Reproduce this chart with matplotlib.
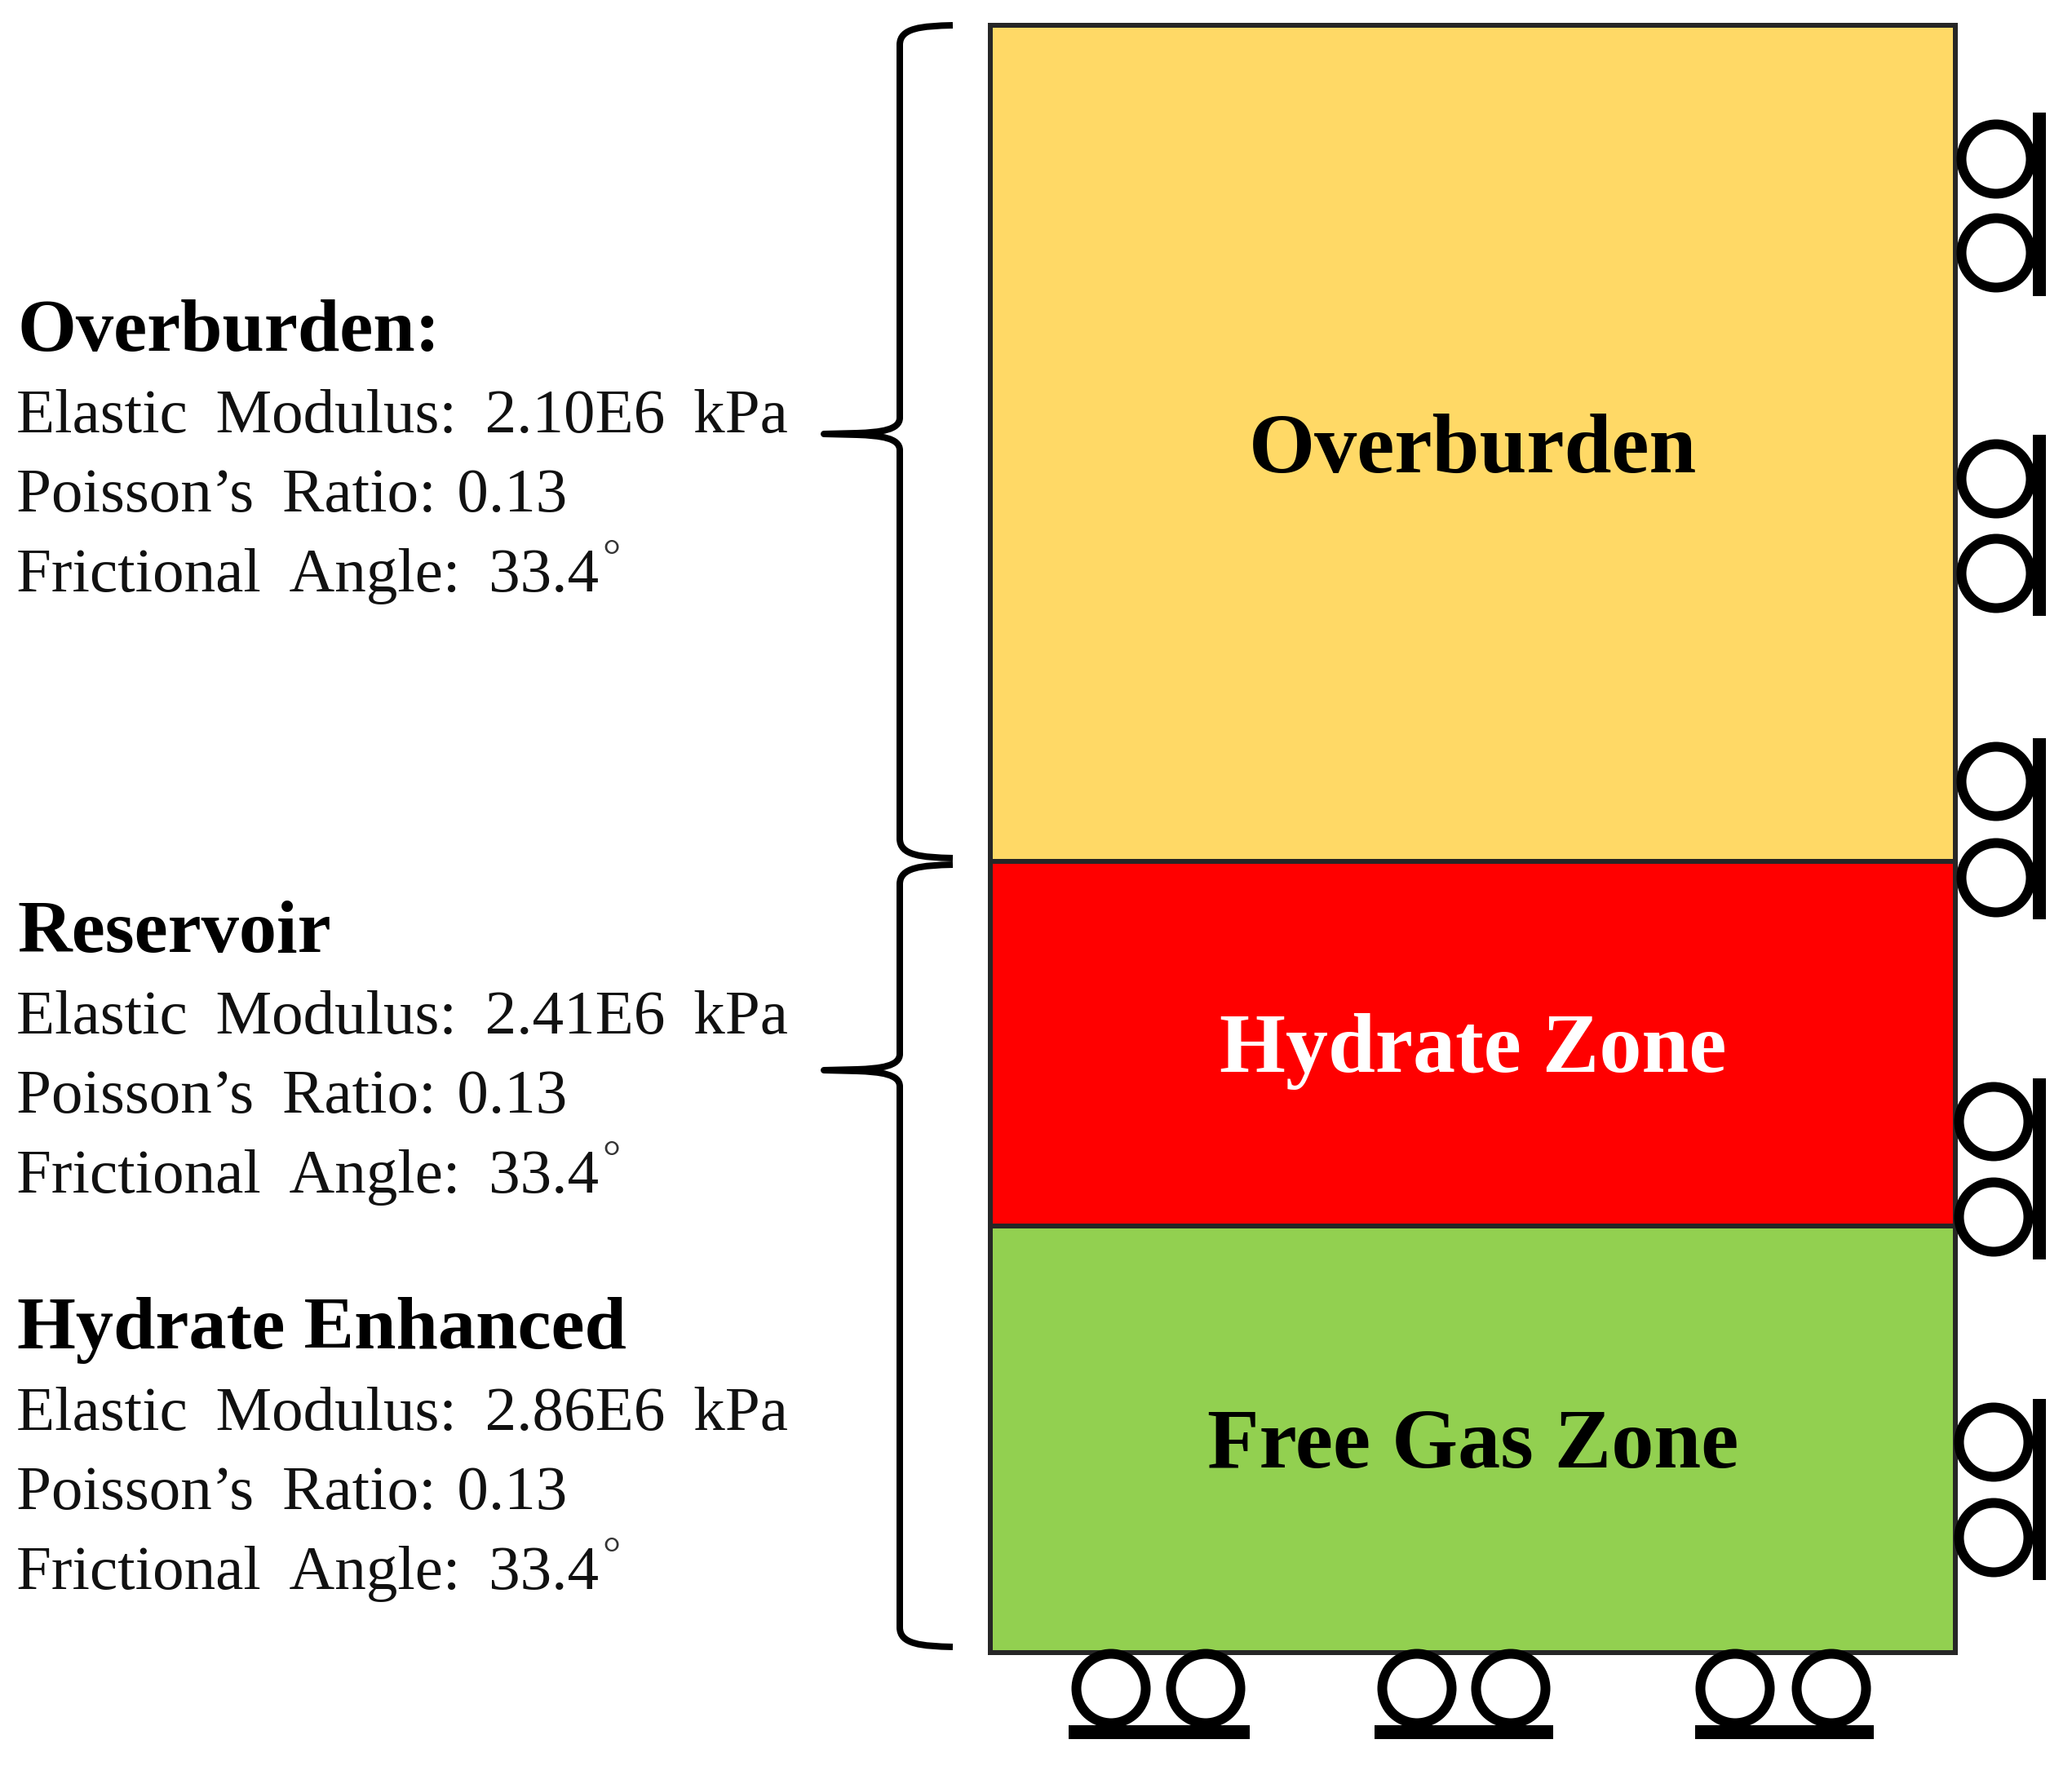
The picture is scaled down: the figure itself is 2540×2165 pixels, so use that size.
import matplotlib
matplotlib.use("Agg")
import matplotlib.pyplot as plt
import matplotlib.patches as mpatches
from matplotlib.path import Path

# layers, top to bottom (image pixel depth)
layer_names = ["Overburden", "Hydrate Zone", "Free Gas Zone"]
layer_colors = ["#FFD966", "#FF0000", "#92D050"]
layer_text_colors = ["black", "white", "black"]
layer_tops = [31, 1056, 1503]
layer_bottoms = [1056, 1503, 2026]
layer_label_base = [579, 1314, 1799]

# property blocks on the left
block_titles = ["Overburden:", "Reservoir", "Hydrate Enhanced"]
block_title_base = [430, 1167, 1653]
elastic_modulus = ["2.10E6", "2.41E6", "2.86E6"]
poisson_ratio = [0.13, 0.13, 0.13]
friction_angle = [33.4, 33.4, 33.4]

# rollers
right_pairs = [(195, 310), (587, 703), (958, 1076), (1375, 1492), (1768, 1885)]
right_x = [2447, 2447, 2447, 2444, 2444]
right_bars = [(138, 363), (533, 755), (905, 1127), (1322, 1544), (1715, 1937)]
bottom_pairs = [(1362, 1478), (1737, 1852), (2127, 2245)]
bottom_bars = [(1310, 1532), (1685, 1904), (2078, 2297)]

# braces: top end, tip, bottom end
braces = [(31, 532, 1052), (1060, 1312, 2019)]

W, H = 2540, 2165
DPI = 100
px = 72.0 / DPI  # one image pixel in points

plt.rcParams['font.family'] = ['Liberation Serif', 'DejaVu Serif']

fig = plt.figure(figsize=(W / DPI, H / DPI), dpi=DPI)
ax = fig.add_axes([0, 0, 1, 1])
ax.set_xlim(0, W)
ax.set_ylim(H, 0)
ax.axis('off')

rect_left, rect_right = 1214, 2397

for name, col, tcol, top, bot, base in zip(layer_names, layer_colors, layer_text_colors,
                                           layer_tops, layer_bottoms, layer_label_base):
    ax.add_patch(mpatches.Rectangle((rect_left, top), rect_right - rect_left, bot - top,
                                    facecolor=col, edgecolor='#262626', lw=6 * px, zorder=1))
    ax.text((rect_left + rect_right) / 2, base, name, color=tcol, fontsize=75, fontweight='bold',
            ha='center', va='baseline', zorder=3)


def roller(x, y):
    ax.add_patch(mpatches.Circle((x, y), 42.5, facecolor='white', edgecolor='black',
                                 lw=12 * px, zorder=4))


for (y1, y2), x, (b1, b2) in zip(right_pairs, right_x, right_bars):
    roller(x, y1)
    roller(x, y2)
    ax.add_patch(mpatches.Rectangle((2491.5, b1), 16.5, b2 - b1, facecolor='black', edgecolor='none', zorder=5))

for (x1, x2), (b1, b2) in zip(bottom_pairs, bottom_bars):
    roller(x1, 2070)
    roller(x2, 2070)
    ax.add_patch(mpatches.Rectangle((b1, 2115), b2 - b1, 17, facecolor='black', edgecolor='none', zorder=5))


def brace(y0, ym, y1, xv=1103, xr=1168, xtip=1010):
    verts = [(xr, y0), (1130, y0 + 1), (xv, y0 + 3), (xv, y0 + 24),
             (xv, ym - 20), (xv, ym - 5), (1080, ym - 2), (1050, ym - 1),
             (xtip, ym), (1050, ym + 1), (1080, ym + 2), (xv, ym + 5), (xv, ym + 20),
             (xv, y1 - 24), (xv, y1 - 3), (1130, y1 - 1), (xr, y1)]
    codes = [Path.MOVETO, Path.CURVE4, Path.CURVE4, Path.CURVE4,
             Path.LINETO, Path.CURVE4, Path.CURVE4, Path.CURVE4,
             Path.LINETO, Path.LINETO, Path.CURVE4, Path.CURVE4, Path.CURVE4,
             Path.LINETO, Path.CURVE4, Path.CURVE4, Path.CURVE4]
    ax.add_patch(mpatches.PathPatch(Path(verts, codes), facecolor='none', edgecolor='black',
                                    lw=8 * px, capstyle='butt', joinstyle='round', zorder=2))


for y0, ym, y1 in braces:
    brace(y0, ym, y1)

text_x = 20
gap = " \u2009"  # the original has wide word gaps
for title, base, E, nu, phi in zip(block_titles, block_title_base, elastic_modulus,
                                   poisson_ratio, friction_angle):
    ax.text(text_x + 1, base, title, fontsize=66.5, fontweight='bold', va='baseline', color='black')
    ax.text(text_x, base + 100, f"Elastic{gap}Modulus:{gap}{E}{gap}kPa", fontsize=55.5, va='baseline', color='#111111')
    ax.text(text_x, base + 197, f"Poisson\u2019s{gap}Ratio: \u200a{nu}", fontsize=55.5, va='baseline', color='#111111')
    ax.text(text_x, base + 295, f"Frictional{gap}Angle:{gap}{phi}", fontsize=55.5, va='baseline', color='#111111')
    ax.text(738, base + 270, "\u00b0", fontsize=40, va='baseline', color='#333333')

fig.savefig("out.png", dpi=DPI, facecolor='white')
